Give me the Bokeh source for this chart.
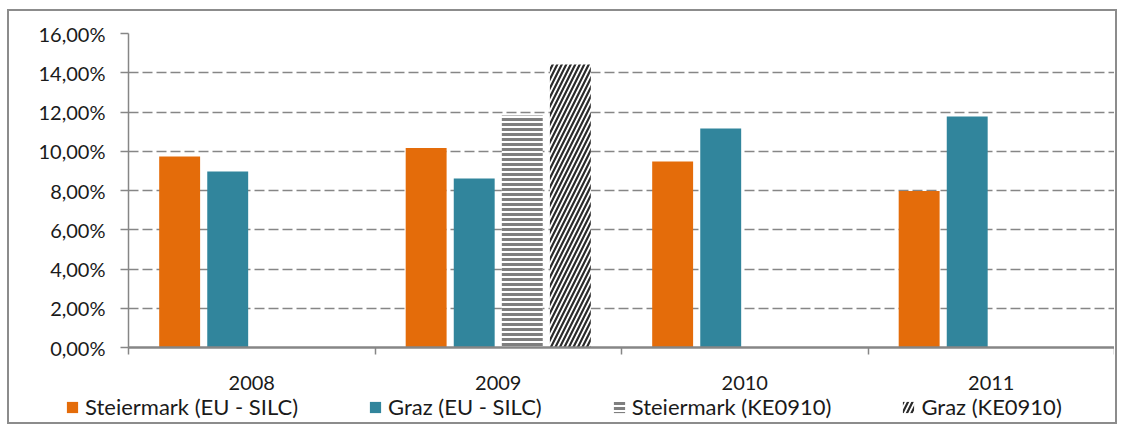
from bokeh.plotting import figure
from bokeh.models import (Range1d, FixedTicker, LinearAxis, Legend, LegendItem)
from bokeh.layouts import column
from bokeh.embed import file_html
from bokeh.resources import INLINE

years = ["2008", "2009", "2010", "2011"]
steiermark_eu = [9.73, 10.16, 9.48, 7.98]
graz_eu = [8.97, 8.61, 11.16, 11.77]
ke_years = ["2009"]
steiermark_ke = [11.82]
graz_ke = [14.42]
y_ticks = [0, 2, 4, 6, 8, 10, 12, 14, 16]
series_names = ["Steiermark (EU - SILC)", "Graz (EU - SILC)",
                "Steiermark (KE0910)", "Graz (KE0910)"]

FONT = "Lato"
GRAY = "#868686"
ORANGE = "#E46C0A"
TEAL = "#31859C"
TXT = "#1a1a1a"

STYLES = [
    dict(fill_color=ORANGE, line_color=None),
    dict(fill_color=TEAL, line_color=None),
    dict(fill_color="white", line_color=None, hatch_pattern="horizontal_line",
         hatch_color="#7f7f7f", hatch_weight=3, hatch_scale=5),
    dict(fill_color="white", line_color=None, hatch_pattern="right_diagonal_line",
         hatch_color="#2a2a2a", hatch_weight=2.2, hatch_scale=9),
]

p = figure(frame_width=986, frame_height=314, output_backend="svg",
           toolbar_location=None, x_range=Range1d(0, len(years)),
           y_range=Range1d(0, 16), x_axis_type=None,
           min_border_left=119, min_border_top=22, min_border_right=0,
           min_border_bottom=0)
p.outline_line_color = None
p.background_fill_color = "white"
p.border_fill_color = "white"

bw = 0.166
step = 0.195
offs = [-1.5 * step, -0.5 * step, 0.5 * step, 1.5 * step]
idx = {y: i for i, y in enumerate(years)}

def xs(cats, k):
    return [idx[c] + 0.5 + offs[k] for c in cats]

series = [(years, steiermark_eu), (years, graz_eu),
          (ke_years, steiermark_ke), (ke_years, graz_ke)]
for k, (cats, vals) in enumerate(series):
    p.vbar(x=xs(cats, k), top=vals, width=bw, **STYLES[k])

# y axis
ya = p.yaxis[0]
ya.ticker = FixedTicker(ticks=y_ticks)
ya.major_label_overrides = {t: f"{t:.2f}".replace(".", ",") + "%" for t in y_ticks}
ya.axis_line_color = GRAY
ya.axis_line_width = 1.5
ya.major_tick_line_color = GRAY
ya.major_tick_line_width = 1.5
ya.major_tick_out = 8
ya.major_tick_in = 0
ya.minor_tick_line_color = None
ya.major_label_text_font = FONT
ya.major_label_text_font_size = "20px"
ya.major_label_text_color = TXT
ya.major_label_standoff = 15

p.ygrid.ticker = FixedTicker(ticks=y_ticks)
p.ygrid.grid_line_color = GRAY
p.ygrid.grid_line_width = 1.5
p.ygrid.grid_line_dash = "10 4"
p.xgrid.grid_line_color = None

# x axis: year labels at category centres, tick marks at category boundaries
centres = [i + 0.5 for i in range(len(years))]
xa = LinearAxis(ticker=FixedTicker(ticks=centres,
                                   minor_ticks=list(range(len(years) + 1))),
                major_label_overrides={c: y for c, y in zip(centres, years)})
xa.axis_line_color = GRAY
xa.axis_line_width = 2.5
xa.major_tick_line_color = None
xa.major_tick_out = 7
xa.minor_tick_line_color = GRAY
xa.minor_tick_line_width = 1.5
xa.minor_tick_out = 7
xa.minor_tick_in = 0
xa.major_label_text_font = FONT
xa.major_label_text_font_size = "20px"
xa.major_label_text_color = TXT
xa.major_label_standoff = 21
p.add_layout(xa, "below")

# legend row (separate strip below the chart; its bars fall outside its range)
lg = figure(width=1106, height=30, output_backend="svg", toolbar_location=None,
            x_range=Range1d(0, len(years)), y_range=Range1d(100, 101),
            x_axis_type=None, y_axis_type=None,
            min_border_left=0, min_border_right=0, min_border_top=0,
            min_border_bottom=0)
lg.frame_align = False
lg.outline_line_color = None
lg.xgrid.grid_line_color = None
lg.ygrid.grid_line_color = None
lg.border_fill_color = "white"
proxies = [lg.vbar(x=xs(cats, k), top=vals, width=bw, **STYLES[k])
           for k, (cats, vals) in enumerate(series)]

legend = Legend(items=[LegendItem(label=n, renderers=[r]) for n, r in
                       zip(series_names, proxies)],
                orientation="horizontal", location=(56, 2))
legend.border_line_color = None
legend.background_fill_alpha = 0
legend.label_text_font = FONT
legend.label_text_font_size = "22px"
legend.label_text_color = TXT
legend.label_height = 22
legend.glyph_width = 14
legend.glyph_height = 14
legend.label_standoff = 6
legend.spacing = 70
legend.padding = 0
legend.margin = 0
lg.add_layout(legend, "center")

layout = column(p, lg, spacing=0)
layout.styles = {"border": "2px solid #8c8c8c", "margin": "9px 0px 0px 7px",
                 "background-color": "white"}

open("out.html", "w").write(file_html(layout, INLINE))
